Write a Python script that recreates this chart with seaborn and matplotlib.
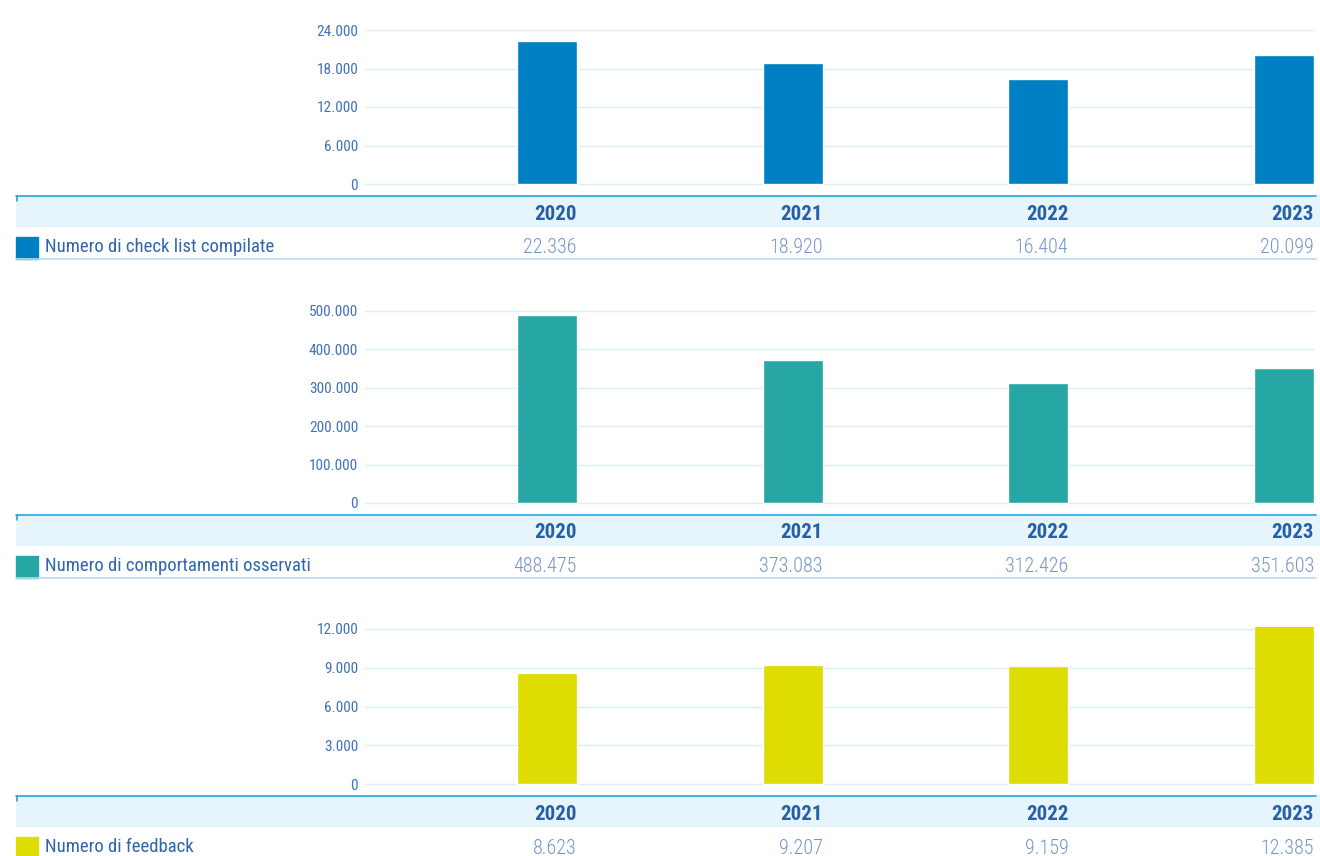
import matplotlib
matplotlib.use("Agg")
import matplotlib.pyplot as plt
import matplotlib.transforms as mtransforms
from matplotlib import font_manager
from matplotlib.patches import Rectangle
from matplotlib.lines import Line2D
from matplotlib.ticker import FuncFormatter
import seaborn as sns

years = ["2020", "2021", "2022", "2023"]

checklist = [22336, 18920, 16404, 20099]
comportamenti = [488475, 373083, 312426, 351603]
feedback = [8623, 9207, 9159, 12385]

labels = ["Numero di check list compilate",
          "Numero di comportamenti osservati",
          "Numero di feedback"]
colors = ["#0080c4", "#26a6a4", "#dedc00"]
yticks = [[0, 6000, 12000, 18000, 24000],
          [0, 100000, 200000, 300000, 400000, 500000],
          [0, 3000, 6000, 9000, 12000]]

sns.set_theme(style="white")

# condensed face if there is one, else plain Roboto a bit smaller
installed = {f.name for f in font_manager.fontManager.ttflist}
if 'Roboto Condensed' in installed:
    plt.rcParams['font.family'] = ['Roboto Condensed', 'DejaVu Sans']
    scale = 1.0
else:
    plt.rcParams['font.family'] = ['Roboto', 'DejaVu Sans']
    scale = 0.86

W, H = 1320, 856
fig = plt.figure(figsize=(W / 100, H / 100), dpi=100)

TICK_C = "#3f72b6"
YEAR_C = "#2760a8"
VAL_C = "#7595c8"
LAB_C = "#2f66ae"
GRID_C = "#d9eef9"
BAND_C = "#e6f4fc"


def fx(px):
    return px / W


def fy(py):
    return 1 - py / H


def thousands(v, pos=None):
    return f"{int(round(v)):,}".replace(",", ".")


def draw_panel(top_px, zero_px, values, ticks, color, label):
    vmax = ticks[-1]
    ppu = (zero_px - top_px) / vmax
    pad = 2
    left, right = 365, 1315
    ax = fig.add_axes([fx(left), fy(zero_px + pad), fx(right) - fx(left),
                       (zero_px - top_px + 2 * pad) / H])
    sns.barplot(x=years, y=values, color=color, saturation=1, width=0.244, ax=ax)
    step = (1284 - 547) / 3
    ax.set_xlim(-(547 - left) / step, 3 + (right - 1284) / step)
    ax.set_ylim(-pad / ppu, vmax + pad / ppu)
    ax.set_yticks(ticks)
    ax.yaxis.set_major_formatter(FuncFormatter(thousands))
    ax.set_axisbelow(True)
    ax.grid(axis='y', color=GRID_C, lw=1)
    ax.grid(axis='x', visible=False)
    for s in ax.spines.values():
        s.set_visible(False)
    ax.set_xticks([])
    ax.set_xlabel("")
    ax.set_ylabel("")
    ax.tick_params(axis='y', length=0, pad=5, labelsize=11 * scale, labelcolor=TICK_C)

    # table below the chart
    band_top = zero_px + 12
    fig.patches.append(Rectangle((fx(16), fy(band_top + 30)), 1 - fx(16), 30 / H,
                                 transform=fig.transFigure, color=BAND_C, zorder=-1))
    fig.lines.append(Line2D([fx(16), fx(1316)], [fy(band_top), fy(band_top)],
                            transform=fig.transFigure, color="#2aa3dc", lw=1.2))
    fig.lines.append(Line2D([fx(16.5), fx(16.5)], [fy(band_top), fy(band_top + 5)],
                            transform=fig.transFigure, color="#2aa3dc", lw=1.2))
    line_y = zero_px + 75
    fig.lines.append(Line2D([fx(16), fx(1316)], [fy(line_y), fy(line_y)],
                            transform=fig.transFigure, color="#b5daf1", lw=1.2))
    fig.patches.append(Rectangle((fx(16), fy(line_y)), 22 / W, 22 / H,
                                 transform=fig.transFigure, color=color))
    fig.text(fx(45), fy(zero_px + 63), label, color=LAB_C, fontsize=13.5 * scale,
             ha='left', va='center')

    trans = mtransforms.blended_transform_factory(ax.transData, fig.transFigure)
    for i, (yr, v) in enumerate(zip(years, values)):
        xr = i + 0.122
        fig.text(xr, fy(band_top + 18), yr, transform=trans, ha='right', va='center',
                 fontsize=15 * scale, fontweight='bold', color=YEAR_C, zorder=5)
        fig.text(xr, fy(zero_px + 64), thousands(v), transform=trans, ha='right',
                 va='center', fontsize=14.5 * scale, fontweight='light',
                 color=VAL_C, zorder=5)


draw_panel(30, 184, checklist, yticks[0], colors[0], labels[0])
draw_panel(311, 503, comportamenti, yticks[1], colors[1], labels[1])
draw_panel(629, 784, feedback, yticks[2], colors[2], labels[2])

fig.savefig("out.png", dpi=100)
